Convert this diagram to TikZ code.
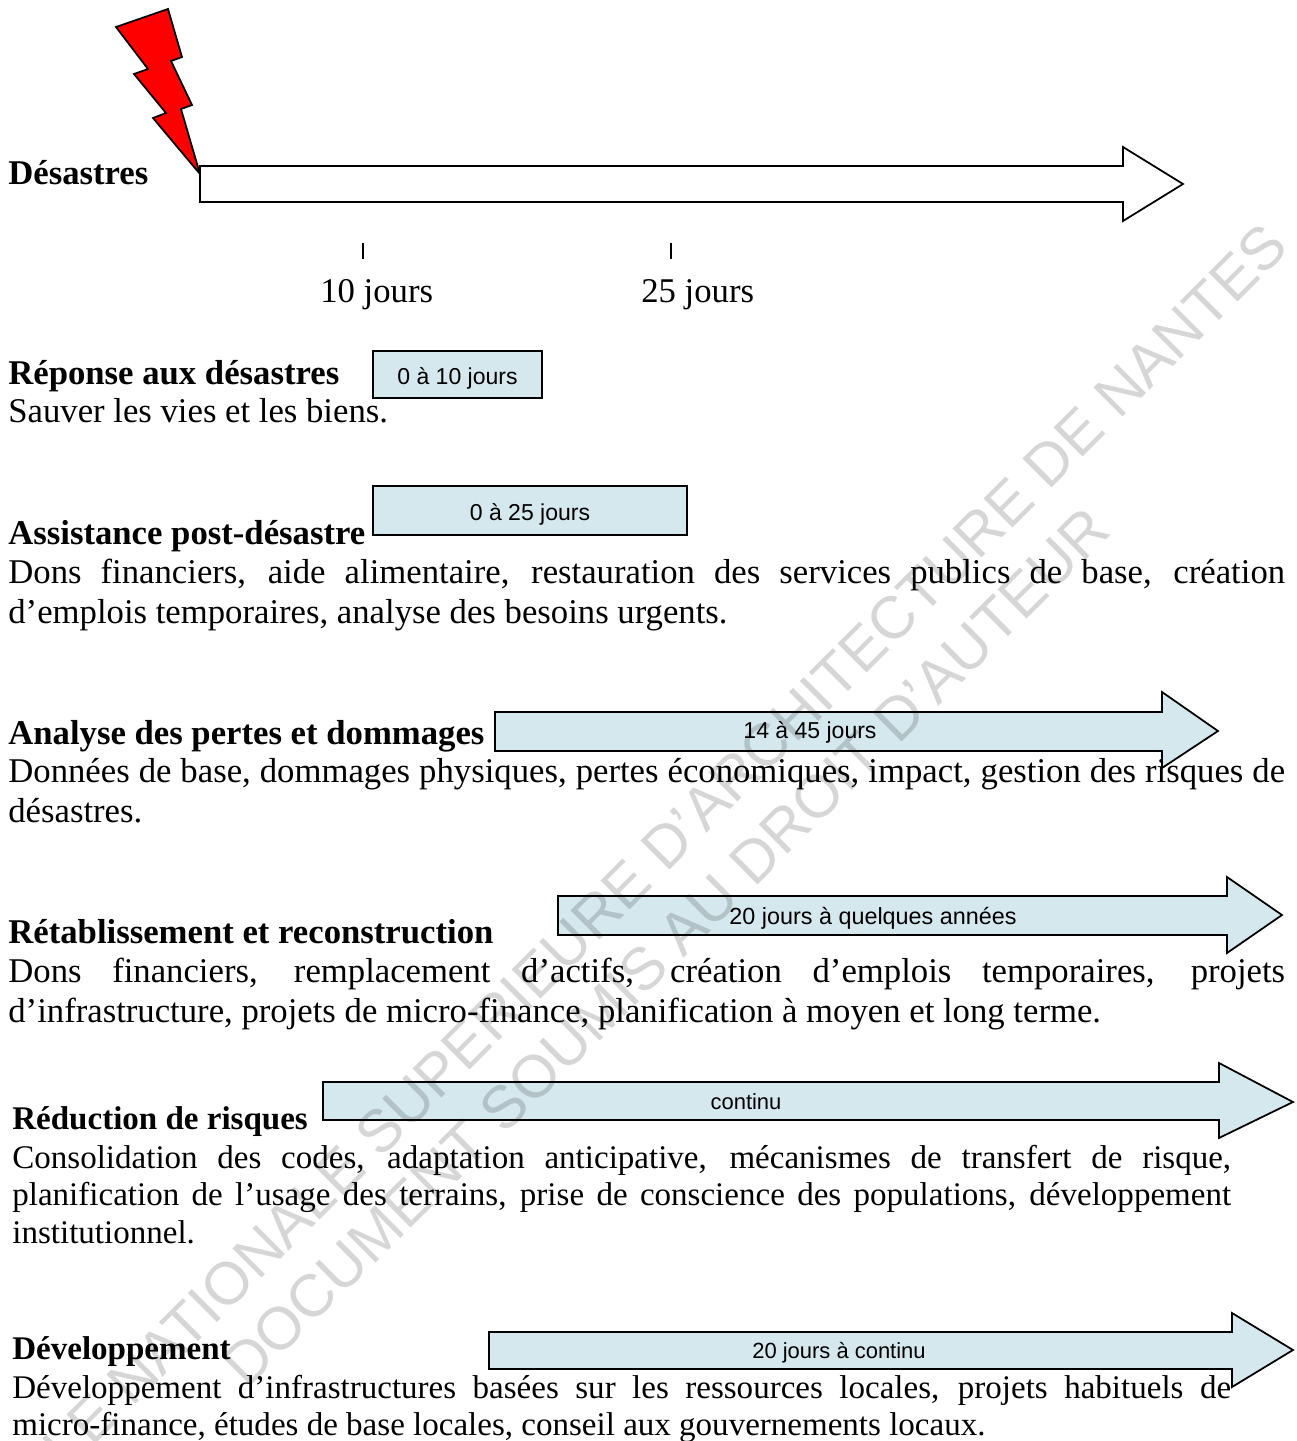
\documentclass[tikz,border=0pt]{standalone}
\usepackage{fontspec}
\setmainfont{Liberation Serif}
\setsansfont{Liberation Sans}
\usepackage{tikz}
\usetikzlibrary{positioning}
\definecolor{bleupale}{HTML}{D5E8EE}

\tikzset{
    titre/.style={anchor=base west, inner sep=0, font=\fontsize{19.75}{22.7}\selectfont\bfseries},
    titrep/.style={titre, font=\fontsize{18.8}{21.5}\selectfont\bfseries},
    corps/.style={anchor=north west, inner sep=0, text width=25.54cm, align=justify,
        font=\fontsize{19.75}{22.7}\selectfont},
    petit/.style={corps, text width=24.38cm, font=\fontsize{18.8}{21.5}\selectfont},
    duree/.style={inner sep=0, font=\fontsize{13.1}{15}\selectfont\sffamily},
    dureep/.style={duree, font=\fontsize{12.5}{15}\selectfont\sffamily},
    boite/.style={draw, line width=1pt, fill=bleupale, duree, text height=11.5pt, text depth=0pt},
    fleche/.style={draw, line width=1pt, fill=bleupale, line join=miter},
    filigrane/.style={inner sep=0, text=black, opacity=0.16, font=\fontsize{34}{36}\selectfont\sffamily}
}

\begin{document}
\begin{tikzpicture}[x=0.02cm, y=-0.02cm]
    \path [fill=white, use as bounding box] (0,0) rectangle (1297,1441);
    \clip (0,0) rectangle (1297,1441);

    % axe du temps
    \draw [draw=black, fill=red, line width=1pt, line join=miter]
        (116,27) -- (168,9) -- (182,57) -- (171,61) -- (192,105) -- (181,109)
        -- (200,174) -- (153,118) -- (166,113) -- (134,74) -- (148,69) -- cycle;
    \draw [fleche, fill=white]
        (200,166) -- (1123,166) -- (1123,147) -- (1183,184)
        -- (1123,221) -- (1123,202) -- (200,202) -- cycle;
    \draw [line width=1pt] (363,243) -- (363,259);
    \draw [line width=1pt] (671,243) -- (671,259);

    \node [titre] (desastres) at (8,184) {Désastres};
    \node [titre, font=\fontsize{19.75}{22.7}\selectfont] (dix) at (320,302) {10 jours};
    \node [titre, font=\fontsize{19.75}{22.7}\selectfont] (vingtcinq) at (641,302) {25 jours};

    % boites
    \node [boite, minimum width=3.38cm, minimum height=0.94cm] (reponsebox) at (457.5,374.5) {0 à 10 jours};
    \node [boite, minimum width=6.28cm, minimum height=0.98cm] (assistbox) at (530,510.5) {0 à 25 jours};

    % fleches
    \draw [fleche] (495,712) -- (1162,712) -- (1162,692) -- (1218,731)
        -- (1162,768) -- (1162,751) -- (495,751) -- cycle;
    \draw [fleche] (558,896) -- (1227,896) -- (1227,877) -- (1282,915)
        -- (1227,953) -- (1227,935) -- (558,935) -- cycle;
    \draw [fleche] (323,1082) -- (1219,1082) -- (1219,1063) -- (1293,1102)
        -- (1219,1138) -- (1219,1120) -- (323,1120) -- cycle;
    \draw [fleche] (489,1332) -- (1232,1332) -- (1232,1313) -- (1293,1350)
        -- (1232,1387) -- (1232,1369) -- (489,1369) -- cycle;

    \node [duree] (analysetxt) at (810,732.5) {14 à 45 jours};
    \node [duree, font=\fontsize{13.3}{15}\selectfont\sffamily] (retabtxt) at (873,918.5) {20 jours à quelques années};
    \node [dureep] (reductxt) at (746,1102) {continu};
    \node [dureep] (devtxt) at (839,1352.5) {20 jours à continu};

    % textes
    \node [titre] (reponse) at (8,384) {Réponse aux désastres};
    \node [corps] (reponsep) at (8,398.5) {Sauver les vies et les biens.};

    \node [titre] (assist) at (8,544) {Assistance post-désastre};
    \node [corps] (assistp) at (8,558.5) {Dons financiers, aide alimentaire, restauration des services publics de base, création\linebreak
        d’emplois temporaires, analyse des besoins urgents.};

    \node [titre] (analyse) at (8,744) {Analyse des pertes et dommages};
    \node [corps] (analysep) at (8,758.5) {Données de base, dommages physiques, pertes économiques, impact, gestion des risques de\linebreak
        désastres.};

    \node [titre] (retab) at (8,943) {Rétablissement et reconstruction};
    \node [corps] (retabp) at (8,957.5) {Dons financiers, remplacement d’actifs, création d’emplois temporaires, projets\linebreak
        d’infrastructure, projets de micro-finance, planification à moyen et long terme.};

    \node [titrep] (reduc) at (12,1129) {Réduction de risques};
    \node [petit] (reducp) at (12,1144.5) {Consolidation des codes, adaptation anticipative, mécanismes de transfert de risque,\linebreak
        planification de l’usage des terrains, prise de conscience des populations, développement\linebreak
        institutionnel.};

    \node [titrep] (dev) at (12,1359) {Développement};
    \node [petit] (devp) at (12,1374.5) {Développement d’infrastructures basées sur les ressources locales, projets habituels de\linebreak
        micro-finance, études de base locales, conseil aux gouvernements locaux.};

    % filigrane
    \node [filigrane, rotate=45, anchor=base east] (filigrane1) at (1291,249)
        {ÉCOLE NATIONALE SUPERIEURE D'ARCHITECTURE DE NANTES};
    \node [filigrane, rotate=44.7, anchor=base east] (filigrane2) at (1113,533)
        {DOCUMENT SOUMIS AU DROIT D'AUTEUR};
\end{tikzpicture}
\end{document}
